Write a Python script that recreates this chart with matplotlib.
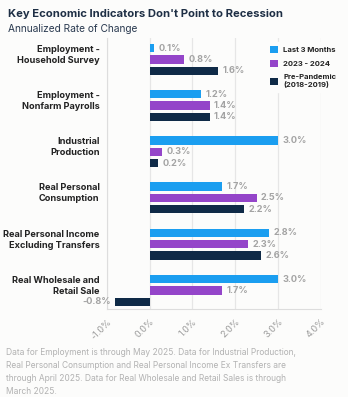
import numpy as np
import matplotlib.pyplot as plt

plt.rcParams['font.family'] = ['Inter', 'DejaVu Sans']

# data
categories = ["Employment -\nHousehold Survey",
              "Employment -\nNonfarm Payrolls",
              "Industrial\nProduction",
              "Real Personal\nConsumption",
              "Real Personal Income\nExcluding Transfers",
              "Real Wholesale and\nRetail Sale"]
last_3_months = [0.1, 1.2, 3.0, 1.7, 2.8, 3.0]
yr_2023_2024 = [0.8, 1.4, 0.3, 2.5, 2.3, 1.7]
pre_pandemic = [1.6, 1.4, 0.2, 2.2, 2.6, -0.8]
series_names = ["Last 3 Months", "2023 - 2024", "Pre-Pandemic\n(2018-2019)"]
colors = ["#1b9ef0", "#9445c9", "#0f2a47"]
xticks = [-1, 0, 1, 2, 3, 4]
xticklabels = ["-1.0%", "0.0%", "1.0%", "2.0%", "3.0%", "4.0%"]

bg = "#fcfcfb"
fig = plt.figure(figsize=(3.48, 3.97), dpi=100, facecolor=bg)
ax = fig.add_axes([0.307, 0.222, 0.615, 0.682], facecolor=bg)

y = np.arange(len(categories))
step = 0.245
h = 0.18
all_series = [last_3_months, yr_2023_2024, pre_pandemic]
for i, (vals, c, name) in enumerate(zip(all_series, colors, series_names)):
    pos = y + (i - 1) * step
    ax.barh(pos, vals, height=h, color=c, label=name, zorder=3)
    for p, v in zip(pos, vals):
        if v >= 0:
            ax.text(v + 0.1, p, f"{v:.1f}%", va='center', ha='left',
                    fontsize=6.6, color='#a3a3a3', fontweight='bold')
        else:
            ax.text(v - 0.1, p, f"{v:.1f}%", va='center', ha='right',
                    fontsize=6.6, color='#a3a3a3', fontweight='bold')

ax.set_xlim(-1, 4)
ax.set_ylim(5.4, -0.46)
ax.set_yticks([])
for yi, lab in zip(y, categories):
    ax.text(-1.17, yi - 0.1, lab, ha='right', va='center', fontsize=6.6,
            fontweight='bold', color='#222222', linespacing=1.3)

ax.set_xticks(xticks)
ax.set_xticklabels(xticklabels, rotation=45, ha='right', rotation_mode='anchor',
                   fontsize=6.5, color='#9a9a9a')
ax.tick_params(axis='x', length=0, pad=6)
ax.grid(axis='x', color='#e6e6e6', linewidth=0.9, zorder=0)
for s in ['top', 'right']:
    ax.spines[s].set_visible(False)
ax.spines['left'].set_color('#dddddd')
ax.spines['bottom'].set_color('#dddddd')

leg = ax.legend(loc='upper left', bbox_to_anchor=(0.725, 1.0), frameon=True,
                fontsize=5.5, handlelength=1.1, handleheight=1.1, handletextpad=0.7,
                labelspacing=0.9, borderpad=0.5)
leg.get_frame().set_facecolor(bg)
leg.get_frame().set_edgecolor(bg)
leg.get_frame().set_alpha(1)
leg.set_zorder(5)
for t in leg.get_texts():
    t.set_fontweight('bold')
    t.set_color('#222222')

fig.text(0.023, 0.978, "Key Economic Indicators Don't Point to Recession",
         fontsize=8.1, fontweight='bold', color='#1e2f45', va='top')
fig.text(0.023, 0.94, "Annualized Rate of Change", fontsize=7.3, color='#2a3a50',
         va='top')

note = ("Data for Employment is through May 2025. Data for Industrial Production,\n"
        "Real Personal Consumption and Real Personal Income Ex Transfers are\n"
        "through April 2025. Data for Real Wholesale and Retail Sales is through\n"
        "March 2025.")
fig.text(0.017, 0.123, note, fontsize=6.05, color='#b2b2b2', va='top',
         linespacing=1.55)

fig.savefig("out.png", dpi=100, facecolor=bg)
